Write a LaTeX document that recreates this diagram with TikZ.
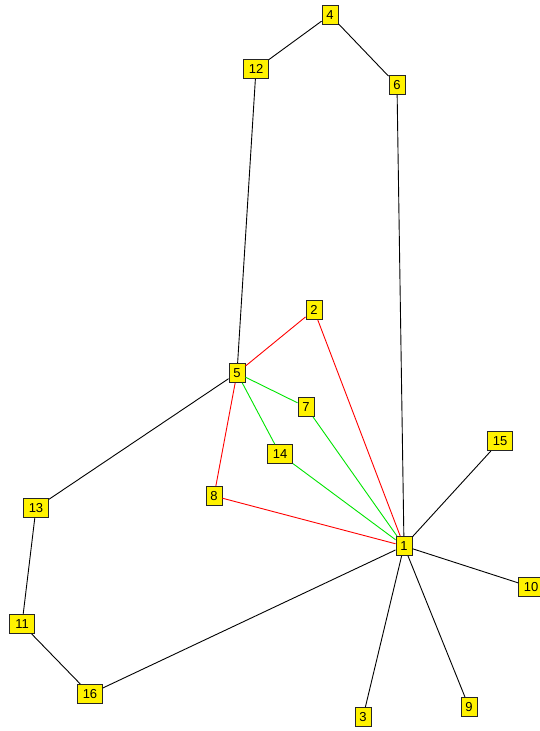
\documentclass[tikz,border=0pt]{standalone}
\usepackage{fontspec}
\setmainfont{Liberation Sans}
\begin{document}
\begin{tikzpicture}[x=1pt,y=-1pt,
  nd/.style={draw=black!85,fill=yellow,inner sep=0pt,minimum width=16pt,minimum height=19pt,font=\fontsize{13}{13}\selectfont,line width=0.9pt},
  wd/.style={nd,minimum width=25pt},
  ed/.style={line width=0.9pt,black},
  re/.style={line width=0.9pt,red},
  ge/.style={line width=0.9pt,green!90!black}]
\useasboundingbox (0,0) rectangle (540,731);
\fill[white] (0,0) rectangle (540,731);
\node[nd] (n4) at (330,15) {4};
\node[wd] (n12) at (256,69) {12};
\node[nd] (n6) at (397,85) {6};
\node[nd] (n2) at (314,310) {2};
\node[nd] (n5) at (237,373) {5};
\node[nd] (n7) at (306,407) {7};
\node[wd] (n14) at (280,454) {14};
\node[wd] (n15) at (500,441) {15};
\node[wd] (n13) at (36,508) {13};
\node[nd] (n8) at (214,496) {8};
\node[nd] (n1) at (404,546) {1};
\node[wd] (n10) at (531,587) {10};
\node[wd] (n11) at (22,624) {11};
\node[wd] (n16) at (90,694) {16};
\node[nd] (n3) at (363,717) {3};
\node[nd] (n9) at (469,707) {9};
\begin{scope}[on background layer/.try]
\end{scope}
\draw[ed] (n4) -- (n12);
\draw[ed] (n4) -- (n6);
\draw[ed] (n12) -- (n5);
\draw[ed] (n6) -- (n1);
\draw[re] (n5) -- (n2);
\draw[re] (n2) -- (n1);
\draw[re] (n5) -- (n8);
\draw[re] (n8) -- (n1);
\draw[ge] (n5) -- (n7);
\draw[ge] (n7) -- (n1);
\draw[ge] (n5) -- (n14);
\draw[ge] (n14) -- (n1);
\draw[ed] (n5) -- (n13);
\draw[ed] (n13) -- (n11);
\draw[ed] (n11) -- (n16);
\draw[ed] (n16) -- (n1);
\draw[ed] (n1) -- (n15);
\draw[ed] (n1) -- (n10);
\draw[ed] (n1) -- (n9);
\draw[ed] (n1) -- (n3);
\end{tikzpicture}
\end{document}
